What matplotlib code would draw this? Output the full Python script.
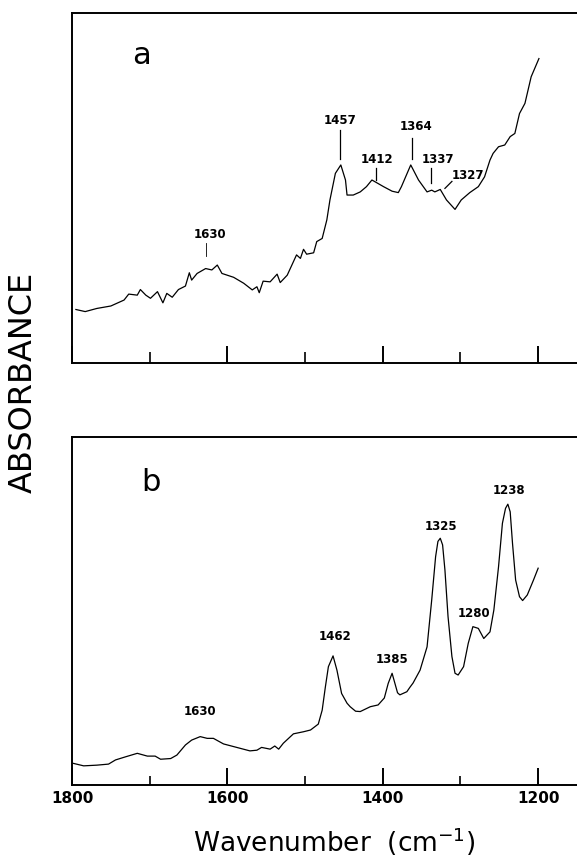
import numpy as np
import matplotlib
matplotlib.use("Agg")
import matplotlib.pyplot as plt

# spectrum a (wavenumber in cm-1, absorbance in arbitrary units)
wn_a = [1795, 1783, 1768, 1750, 1733, 1727, 1716, 1712, 1705, 1699, 1690, 1683, 1678, 1671,
        1663, 1654, 1649, 1646, 1639, 1628, 1620, 1613, 1607, 1592, 1579, 1568, 1562, 1559,
        1554, 1545, 1536, 1532, 1523, 1517, 1511, 1506, 1502, 1498, 1489, 1485, 1478, 1472,
        1468, 1461, 1454, 1448, 1446, 1438, 1429, 1421, 1414, 1410, 1399, 1388, 1380, 1376,
        1364, 1354, 1343, 1337, 1333, 1326, 1318, 1307, 1299, 1288, 1277, 1269, 1262, 1258,
        1251, 1243, 1236, 1230, 1224, 1217, 1213, 1209, 1199]
abs_a = [0.153, 0.147, 0.156, 0.163, 0.180, 0.197, 0.194, 0.210, 0.194, 0.185, 0.204, 0.172,
         0.199, 0.188, 0.210, 0.220, 0.258, 0.237, 0.256, 0.270, 0.266, 0.280, 0.256, 0.245,
         0.228, 0.209, 0.218, 0.201, 0.234, 0.232, 0.254, 0.230, 0.251, 0.280, 0.309, 0.299,
         0.325, 0.311, 0.315, 0.347, 0.356, 0.409, 0.466, 0.542, 0.566, 0.523, 0.480, 0.480,
         0.489, 0.504, 0.523, 0.518, 0.504, 0.491, 0.487, 0.504, 0.566, 0.523, 0.489, 0.494,
         0.489, 0.496, 0.466, 0.439, 0.466, 0.487, 0.504, 0.532, 0.580, 0.599, 0.618, 0.623,
         0.647, 0.656, 0.713, 0.742, 0.780, 0.818, 0.870]

# spectrum b
wn_b = [1798, 1785, 1768, 1753, 1744, 1731, 1716, 1703, 1693, 1686, 1673, 1665, 1654, 1646,
        1635, 1626, 1618, 1605, 1588, 1571, 1562, 1556, 1545, 1539, 1534, 1528, 1515, 1502,
        1493, 1483, 1478, 1474, 1470, 1464, 1459, 1453, 1446, 1442, 1435, 1429, 1416, 1406,
        1398, 1393, 1388, 1385, 1381, 1378, 1369, 1365, 1361, 1352, 1343, 1337, 1332, 1329,
        1326, 1323, 1320, 1316, 1311, 1307, 1303, 1296, 1290, 1284, 1277, 1270, 1262, 1257,
        1251, 1246, 1242, 1239, 1236, 1233, 1229, 1224, 1220, 1214, 1206, 1200]
abs_b = [0.062, 0.055, 0.057, 0.060, 0.072, 0.081, 0.091, 0.083, 0.083, 0.074, 0.076, 0.086,
         0.115, 0.129, 0.139, 0.134, 0.134, 0.118, 0.108, 0.098, 0.100, 0.108, 0.103, 0.112,
         0.103, 0.120, 0.147, 0.153, 0.158, 0.175, 0.215, 0.280, 0.340, 0.371, 0.330, 0.263,
         0.235, 0.225, 0.212, 0.211, 0.225, 0.230, 0.250, 0.292, 0.321, 0.297, 0.265, 0.259,
         0.268, 0.281, 0.293, 0.330, 0.397, 0.532, 0.656, 0.700, 0.709, 0.690, 0.618, 0.484,
         0.369, 0.321, 0.316, 0.340, 0.407, 0.455, 0.450, 0.421, 0.440, 0.503, 0.627, 0.752,
         0.795, 0.807, 0.785, 0.694, 0.589, 0.541, 0.530, 0.546, 0.589, 0.623]

major_ticks = [1800, 1600, 1400, 1200]
minor_ticks = [1700, 1500, 1300]

fig = plt.figure(figsize=(5.77, 8.65), dpi=100)
ax_a = fig.add_axes([0.1248, 0.5803, 0.8752, 0.4046])
ax_b = fig.add_axes([0.1248, 0.0925, 0.8752, 0.4023])

for ax in (ax_a, ax_b):
    ax.set_xlim(1800, 1150)
    ax.set_ylim(0, 1)
    ax.set_yticks([])
    ax.set_xticks(major_ticks)
    ax.set_xticks(minor_ticks, minor=True)
    ax.spines['right'].set_visible(False)
    for s in ('left', 'top', 'bottom'):
        ax.spines[s].set_linewidth(1.4)
    ax.tick_params(axis='x', which='major', direction='in', length=12.5, width=1.4)

ax_a.tick_params(axis='x', which='minor', direction='in', length=8, width=1.2)
ax_b.tick_params(axis='x', which='minor', direction='in', length=6.5, width=1.2)
ax_a.tick_params(axis='x', which='major', labelbottom=False)
ax_b.tick_params(axis='x', which='major', labelsize=11, pad=4)
for lab in ax_b.get_xticklabels():
    lab.set_fontweight('bold')

ax_a.plot(wn_a, abs_a, color='black', lw=0.9)
ax_b.plot(wn_b, abs_b, color='black', lw=0.9)

# panel letters
ax_a.text(1710, 0.88, 'a', fontsize=22, ha='center', va='center')
ax_b.text(1699, 0.87, 'b', fontsize=22, ha='center', va='center')

# peak labels, panel a (with marker lines)
lab_kw = dict(fontsize=8.5, fontweight='bold', ha='center', va='center')
ax_a.text(1622, 0.366, '1630', **lab_kw)
ax_a.plot([1627, 1627], [0.305, 0.343], color='black', lw=0.6)
ax_a.text(1455, 0.692, '1457', **lab_kw)
ax_a.plot([1455, 1455], [0.583, 0.666], color='black', lw=0.9)
ax_a.text(1408, 0.583, '1412', **lab_kw)
ax_a.plot([1409, 1409], [0.523, 0.557], color='black', lw=0.9)
ax_a.text(1357, 0.675, '1364', **lab_kw)
ax_a.plot([1363, 1363], [0.583, 0.643], color='black', lw=0.9)
ax_a.text(1329, 0.583, '1337', **lab_kw)
ax_a.plot([1338, 1338], [0.514, 0.557], color='black', lw=0.9)
ax_a.text(1291, 0.537, '1327', **lab_kw)
ax_a.plot([1320, 1311], [0.499, 0.519], color='black', lw=0.9)

# peak labels, panel b
ax_b.text(1635, 0.211, '1630', **lab_kw)
ax_b.text(1462, 0.428, '1462', **lab_kw)
ax_b.text(1388, 0.362, '1385', **lab_kw)
ax_b.text(1325, 0.744, '1325', **lab_kw)
ax_b.text(1283, 0.493, '1280', **lab_kw)
ax_b.text(1238, 0.846, '1238', **lab_kw)

fig.text(0.04, 0.558, 'ABSORBANCE', rotation=90, fontsize=23,
         ha='center', va='center')
fig.text(0.58, 0.027, 'Wavenumber  (cm$^{-1}$)', fontsize=19,
         ha='center', va='center')

fig.savefig('out.png', dpi=100)
